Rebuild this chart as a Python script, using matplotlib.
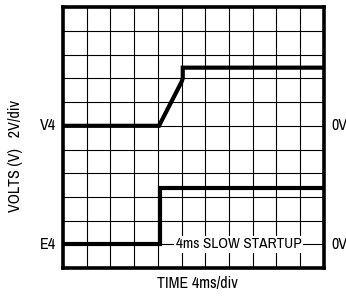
import matplotlib
matplotlib.use("Agg")
import matplotlib.pyplot as plt
from matplotlib.ticker import MultipleLocator

# Data in grid divisions (x: 4ms/div, y: divisions from bottom)
v4_t = [0.0, 4.05, 5.0, 5.05, 5.05, 10.9]
v4_y = [6.0, 6.0, 7.85, 8.0, 8.45, 8.45]
e4_t = [0.0, 4.1, 4.1, 10.9]
e4_y = [1.0, 1.0, 3.4, 3.4]

n_xdiv = 11
n_ydiv = 11

plt.rcParams['font.family'] = ['Archivo Narrow', 'Liberation Sans', 'DejaVu Sans']

fig = plt.figure(figsize=(3.46, 2.98), dpi=100)
ax = fig.add_axes([0.182, 0.100, 0.754, 0.876])
ax.set_xlim(0, n_xdiv)
ax.set_ylim(0, n_ydiv)
ax.xaxis.set_major_locator(MultipleLocator(1))
ax.yaxis.set_major_locator(MultipleLocator(1))
ax.grid(True, color='black', linewidth=0.8)
ax.tick_params(length=0, labelbottom=False, labelleft=False)
for s in ax.spines.values():
    s.set_linewidth(2.6)
    s.set_color('black')

ax.plot(v4_t, v4_y, color='black', linewidth=3.0, solid_joinstyle='miter', zorder=3)
ax.plot(e4_t, e4_y, color='black', linewidth=3.0, solid_joinstyle='miter', zorder=3)

fs = 11.5
ax.text(7.4, 1.0, "4ms SLOW STARTUP", ha='center', va='center', fontsize=11,
        bbox=dict(facecolor='white', edgecolor='none', pad=1.0), zorder=4)

ax.text(-0.3, 6.0, "V4", ha='right', va='center', fontsize=fs, clip_on=False)
ax.text(-0.3, 1.0, "E4", ha='right', va='center', fontsize=fs, clip_on=False)
ax.text(11.3, 6.0, "0V", ha='left', va='center', fontsize=fs, clip_on=False)
ax.text(11.3, 1.0, "0V", ha='left', va='center', fontsize=fs, clip_on=False)

fig.text(0.045, 0.475, "VOLTS (V)   2V/div", rotation=90, ha='center', va='center', fontsize=fs)
fig.text(0.57, 0.05, "TIME 4ms/div", ha='center', va='center', fontsize=fs)

fig.savefig("out.png", dpi=100)
